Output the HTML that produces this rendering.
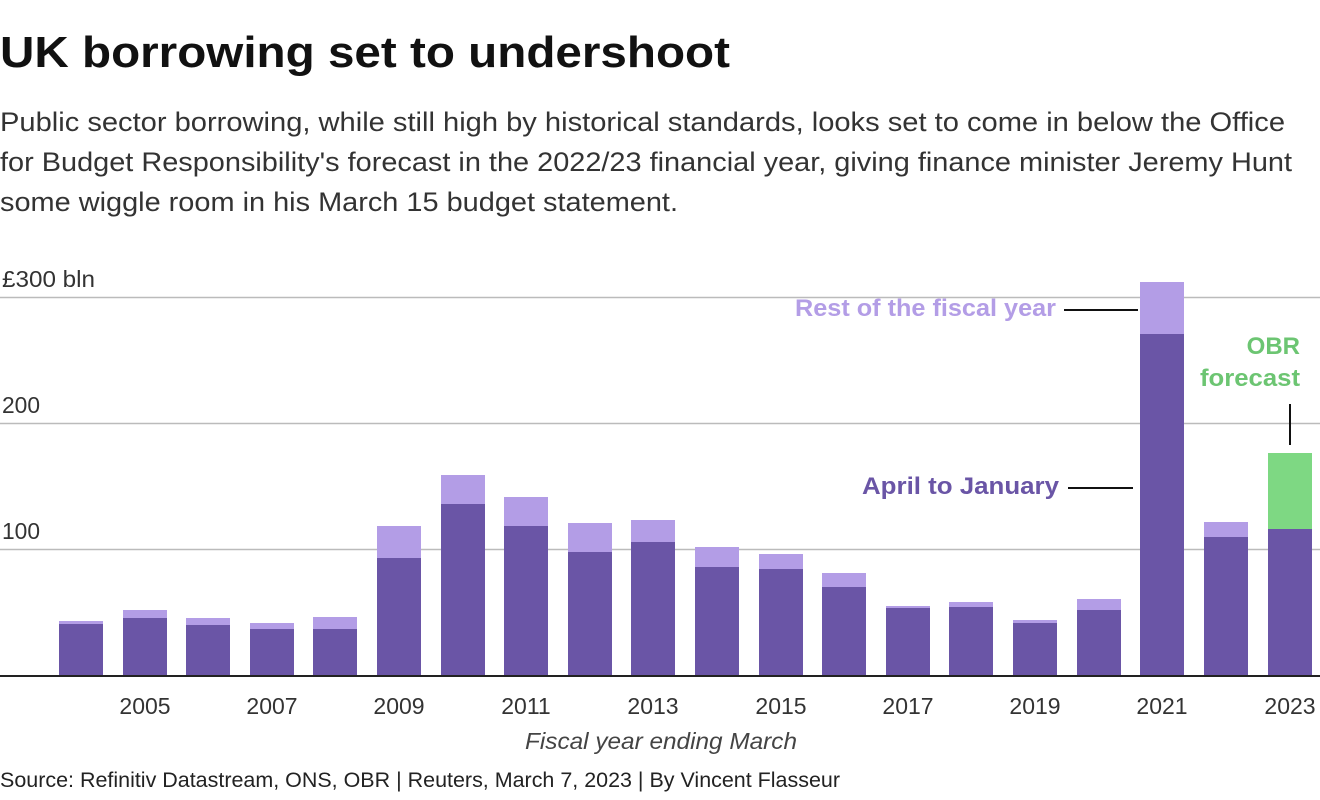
<!DOCTYPE html>
<html><head><meta charset="utf-8"><style>
html,body{margin:0;padding:0;background:#fff;width:1320px;height:800px;overflow:hidden}
svg{display:block}
text{font-family:"Liberation Sans",sans-serif}
</style></head><body>
<svg width="1320" height="800" viewBox="0 0 1320 800" xmlns="http://www.w3.org/2000/svg">
<text x="0" y="67" font-size="44" font-weight="bold" fill="#111" textLength="730" lengthAdjust="spacingAndGlyphs">UK borrowing set to undershoot</text>
<g font-size="27" fill="#333">
<text x="0" y="131" textLength="1285" lengthAdjust="spacingAndGlyphs">Public sector borrowing, while still high by historical standards, looks set to come in below the Office</text>
<text x="0" y="171" textLength="1292" lengthAdjust="spacingAndGlyphs">for Budget Responsibility's forecast in the 2022/23 financial year, giving finance minister Jeremy Hunt</text>
<text x="0" y="211" textLength="678" lengthAdjust="spacingAndGlyphs">some wiggle room in his March 15 budget statement.</text>
</g>
<g stroke="#bbb" stroke-width="1.5">
<line x1="0" y1="297.5" x2="1320" y2="297.5"/>
<line x1="0" y1="423.5" x2="1320" y2="423.5"/>
<line x1="0" y1="549.5" x2="1320" y2="549.5"/>
</g>
<g font-size="23" fill="#333">
<text x="2" y="287" textLength="93" lengthAdjust="spacingAndGlyphs">£300 bln</text>
<text x="2" y="413" textLength="38" lengthAdjust="spacingAndGlyphs">200</text>
<text x="2" y="539" textLength="38" lengthAdjust="spacingAndGlyphs">100</text>
</g>
<g id="bars">
<rect x="59" y="621" width="44" height="55" fill="#b39de6"/><rect x="59" y="624" width="44" height="52" fill="#6a55a6"/>
<rect x="123" y="610" width="44" height="66" fill="#b39de6"/><rect x="123" y="618" width="44" height="58" fill="#6a55a6"/>
<rect x="186" y="618" width="44" height="58" fill="#b39de6"/><rect x="186" y="625" width="44" height="51" fill="#6a55a6"/>
<rect x="250" y="623" width="44" height="53" fill="#b39de6"/><rect x="250" y="629" width="44" height="47" fill="#6a55a6"/>
<rect x="313" y="617" width="44" height="59" fill="#b39de6"/><rect x="313" y="629" width="44" height="47" fill="#6a55a6"/>
<rect x="377" y="526" width="44" height="150" fill="#b39de6"/><rect x="377" y="558" width="44" height="118" fill="#6a55a6"/>
<rect x="441" y="475" width="44" height="201" fill="#b39de6"/><rect x="441" y="504" width="44" height="172" fill="#6a55a6"/>
<rect x="504" y="497" width="44" height="179" fill="#b39de6"/><rect x="504" y="526" width="44" height="150" fill="#6a55a6"/>
<rect x="568" y="523" width="44" height="153" fill="#b39de6"/><rect x="568" y="552" width="44" height="124" fill="#6a55a6"/>
<rect x="631" y="520" width="44" height="156" fill="#b39de6"/><rect x="631" y="542" width="44" height="134" fill="#6a55a6"/>
<rect x="695" y="547" width="44" height="129" fill="#b39de6"/><rect x="695" y="567" width="44" height="109" fill="#6a55a6"/>
<rect x="759" y="554" width="44" height="122" fill="#b39de6"/><rect x="759" y="569" width="44" height="107" fill="#6a55a6"/>
<rect x="822" y="573" width="44" height="103" fill="#b39de6"/><rect x="822" y="587" width="44" height="89" fill="#6a55a6"/>
<rect x="886" y="606" width="44" height="70" fill="#b39de6"/><rect x="886" y="608" width="44" height="68" fill="#6a55a6"/>
<rect x="949" y="602" width="44" height="74" fill="#b39de6"/><rect x="949" y="607" width="44" height="69" fill="#6a55a6"/>
<rect x="1013" y="620" width="44" height="56" fill="#b39de6"/><rect x="1013" y="623" width="44" height="53" fill="#6a55a6"/>
<rect x="1077" y="599" width="44" height="77" fill="#b39de6"/><rect x="1077" y="610" width="44" height="66" fill="#6a55a6"/>
<rect x="1140" y="282" width="44" height="394" fill="#b39de6"/><rect x="1140" y="334" width="44" height="342" fill="#6a55a6"/>
<rect x="1204" y="522" width="44" height="154" fill="#b39de6"/><rect x="1204" y="537" width="44" height="139" fill="#6a55a6"/>
<rect x="1268" y="453" width="44" height="223" fill="#7ed883"/><rect x="1268" y="529" width="44" height="147" fill="#6a55a6"/>
</g>
<line x1="0" y1="676" x2="1320" y2="676" stroke="#222" stroke-width="2"/>
<g font-size="23" fill="#333" text-anchor="middle">
<text x="145" y="714">2005</text><text x="272" y="714">2007</text><text x="399" y="714">2009</text>
<text x="526" y="714">2011</text><text x="653" y="714">2013</text><text x="781" y="714">2015</text>
<text x="908" y="714">2017</text><text x="1035" y="714">2019</text><text x="1162" y="714">2021</text>
<text x="1290" y="714">2023</text>
</g>
<text x="661" y="749" font-size="23" font-style="italic" fill="#444" text-anchor="middle" textLength="272" lengthAdjust="spacingAndGlyphs">Fiscal year ending March</text>
<text x="0" y="787" font-size="21" fill="#222" textLength="840" lengthAdjust="spacingAndGlyphs">Source: Refinitiv Datastream, ONS, OBR | Reuters, March 7, 2023 | By Vincent Flasseur</text>
<g font-size="24" font-weight="bold">
<text x="1056" y="316" fill="#b39de6" text-anchor="end" textLength="261" lengthAdjust="spacingAndGlyphs">Rest of the fiscal year</text>
<text x="1059" y="494" fill="#6a55a6" text-anchor="end" textLength="197" lengthAdjust="spacingAndGlyphs">April to January</text>
<text x="1300" y="354" fill="#6cc572" text-anchor="end">OBR</text>
<text x="1300" y="386" fill="#6cc572" text-anchor="end" textLength="100" lengthAdjust="spacingAndGlyphs">forecast</text>
</g>
<g stroke="#111" stroke-width="2">
<line x1="1064" y1="310" x2="1138" y2="310"/>
<line x1="1068" y1="488" x2="1133" y2="488"/>
<line x1="1290" y1="404" x2="1290" y2="445"/>
</g>
</svg>
</body></html>
